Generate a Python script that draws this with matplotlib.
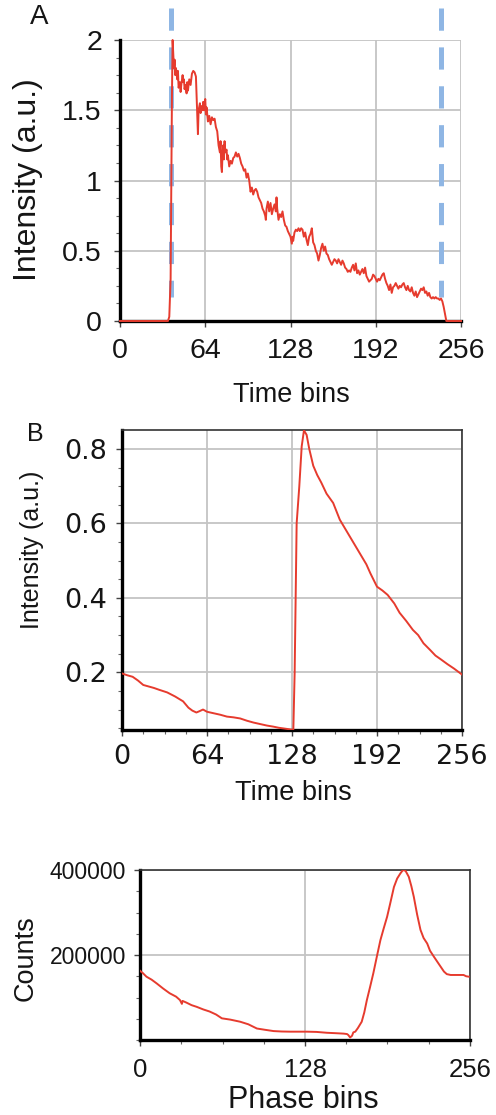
import matplotlib
matplotlib.use("Agg")
import matplotlib.pyplot as plt
from matplotlib.ticker import MultipleLocator, FixedLocator

# ---------------- data ----------------
a_x = [0, 36, 37, 38, 38.5, 39, 39.5, 40, 40.5, 41, 41.5, 42, 43, 43.5, 44, 45, 45.5, 46, 47, 47.5,
       48, 48.5, 49, 50, 50.5, 51, 52, 53, 54, 55, 56, 57, 57.5, 58, 58.5, 59, 60, 60.5, 61, 62,
       62.5, 63, 64, 64.5, 65, 66, 67, 68, 69, 70, 71, 72, 73, 73.5, 74, 75, 75.5, 76, 76.5, 77,
       77.5, 78, 78.5, 79, 80, 80.5, 81, 82, 83, 84, 85, 86, 87, 88, 89, 90, 91, 92, 93, 94,
       95, 96, 97, 98, 99, 100, 101, 102, 103, 104, 105, 106, 107, 108, 109, 109.5, 110, 111, 112, 113,
       114, 115, 116, 117, 117.5, 118, 119, 120, 121, 122, 123, 124, 125, 126, 127, 128, 129, 129.5, 130, 131,
       132, 133, 134, 135, 136, 137, 138, 139, 140, 141, 142, 143, 144, 145, 146, 147, 148, 149, 150, 151,
       152, 153, 154, 155, 156, 157, 158, 159, 160, 161, 162, 163, 164, 165, 166, 167, 168, 169, 170, 171,
       172, 173, 174, 175, 176, 177, 178, 179, 180, 181, 182, 183, 184, 185, 186, 187, 188, 189, 190, 191,
       192, 193, 194, 195, 196, 197, 198, 199, 200, 201, 202, 203, 204, 205, 206, 207, 208, 209, 210, 211,
       212, 213, 214, 215, 216, 217, 218, 219, 220, 221, 222, 223, 224, 225, 226, 227, 228, 229, 230, 231,
       232, 233, 234, 235, 236, 237, 238, 239, 240, 241, 242, 243, 244, 245, 256]
a_y = [0, 0, 0.03, 0.3, 1.0, 1.6, 2.0, 1.9, 1.8, 1.86, 1.75, 1.8, 1.72, 1.78, 1.66, 1.7, 1.63, 1.68, 1.75, 1.7,
       1.72, 1.65, 1.68, 1.62, 1.7, 1.64, 1.72, 1.68, 1.76, 1.78, 1.77, 1.74, 1.6, 1.45, 1.33, 1.5, 1.55, 1.48, 1.53, 1.5,
       1.56, 1.5, 1.58, 1.47, 1.52, 1.42, 1.46, 1.4, 1.45, 1.43, 1.44, 1.38, 1.35, 1.3, 1.25, 1.2, 1.28, 1.1, 1.06, 1.2,
       1.25, 1.15, 1.28, 1.2, 1.22, 1.15, 1.18, 1.1, 1.14, 1.12, 1.16, 1.17, 1.2, 1.17, 1.19, 1.16, 1.12, 1.1, 1.07, 1.08,
       1.02, 1.05, 1.0, 0.92, 0.95, 0.9, 0.93, 0.94, 0.92, 0.88, 0.86, 0.84, 0.8, 0.78, 0.75, 0.72, 0.8, 0.85, 0.78, 0.84,
       0.76, 0.8, 0.83, 0.78, 0.88, 0.8, 0.72, 0.76, 0.74, 0.78, 0.72, 0.68, 0.67, 0.64, 0.62, 0.6, 0.55, 0.6, 0.57, 0.63,
       0.65, 0.64, 0.66, 0.64, 0.66, 0.65, 0.6, 0.63, 0.58, 0.54, 0.6, 0.62, 0.66, 0.56, 0.54, 0.5, 0.48, 0.43, 0.47, 0.52,
       0.55, 0.5, 0.53, 0.48, 0.47, 0.44, 0.42, 0.4, 0.42, 0.44, 0.43, 0.41, 0.44, 0.42, 0.4, 0.43, 0.41, 0.38, 0.37, 0.35,
       0.36, 0.35, 0.38, 0.4, 0.36, 0.41, 0.34, 0.36, 0.33, 0.35, 0.37, 0.34, 0.38, 0.32, 0.3, 0.28, 0.29, 0.3, 0.33, 0.32,
       0.3, 0.28, 0.3, 0.29, 0.31, 0.33, 0.34, 0.3, 0.27, 0.25, 0.22, 0.26, 0.2, 0.24, 0.25, 0.27, 0.25, 0.23, 0.25, 0.24,
       0.26, 0.27, 0.24, 0.22, 0.25, 0.22, 0.21, 0.24, 0.2, 0.18, 0.21, 0.17, 0.19, 0.21, 0.23, 0.22, 0.24, 0.2, 0.21, 0.18,
       0.2, 0.17, 0.16, 0.17, 0.16, 0.17, 0.16, 0.16, 0.15, 0.16, 0.14, 0.1, 0.05, 0.0, 0.0]
a_marks = [38.5, 240.7]

b_x = [0, 4, 8, 12, 16, 20, 24, 28, 34, 40, 46, 50, 53, 56, 58, 61, 64, 69, 74, 79,
       84, 89, 94, 99, 104, 109, 114, 118, 122, 126, 129, 130, 131.5, 133.5, 135.3, 137, 139, 141, 144, 147,
       150, 154, 159, 164, 169, 174, 179, 184, 187, 192, 196, 200, 205, 209, 214, 219, 223, 227, 232, 236,
       240, 245, 250, 256]
b_y = [0.197, 0.192, 0.188, 0.178, 0.166, 0.162, 0.158, 0.153, 0.146, 0.135, 0.122, 0.105, 0.097, 0.092, 0.095, 0.1, 0.094, 0.09, 0.086, 0.081,
       0.079, 0.076, 0.07, 0.065, 0.061, 0.057, 0.054, 0.051, 0.049, 0.047, 0.045, 0.2, 0.6, 0.7, 0.807, 0.85, 0.838, 0.8, 0.755, 0.73,
       0.71, 0.68, 0.655, 0.61, 0.58, 0.55, 0.52, 0.49, 0.466, 0.43, 0.42, 0.408, 0.385, 0.36, 0.338, 0.314, 0.3, 0.278, 0.26, 0.245,
       0.235, 0.222, 0.21, 0.194]

c_x = [0, 2, 5, 9, 13, 18, 23, 28, 31, 32.5, 33, 36, 40, 44, 49, 54, 59, 63.5, 70, 77.7,
       84, 90.7, 97, 103.6, 110, 116.6, 123, 129.5, 137, 145, 152, 158, 160.6, 161.5, 163, 164.5, 165.5, 167, 169, 172,
       174, 176, 178.5, 181, 184, 186.5, 189, 191.7, 194, 197, 199.5, 202, 204, 206, 208.5, 210.5, 212.4, 215, 217.6, 220,
       222.8, 225, 228, 232, 235.8, 238, 241, 246, 251, 253, 255]
c_y = [163, 158, 149, 142, 133, 121, 110, 102, 94, 85, 92, 88, 82, 78, 72, 67, 60, 51, 48, 43,
       37, 27, 24, 21, 20, 19.6, 19.6, 19.6, 19, 17, 16, 15, 14, 12, 6, 10, 18, 19.6, 28, 43,
       65, 94, 125, 157, 200, 235, 262, 290, 320, 360, 380, 392, 400, 398, 384, 362, 337, 295, 259, 240,
       227, 210, 196, 178, 161, 155, 153, 153, 153, 150, 149]
c_y = [v * 1000 for v in c_y]

# ---------------- style ----------------
RED = "#e63b2e"
BLUE = "#8fb6e4"
GRID = "#c4c4c4"
plt.rcParams["lines.scale_dashes"] = False
ARIAL = ["Liberation Sans", "DejaVu Sans"]
VERD = ["DejaVu Sans"]

W, H = 496, 1115
fig = plt.figure(figsize=(W / 100, H / 100), dpi=100)


def rect(l, t, r, b):
    return [l / W, 1 - b / H, (r - l) / W, (b - t) / H]


def ftext(x, y, s, **kw):
    fig.text(x / W, 1 - y / H, s, color="#151515", **kw)


def style_axes(ax, full_box):
    ax.set_facecolor("white")
    for s in ("left", "bottom"):
        ax.spines[s].set_linewidth(2.4)
        ax.spines[s].set_color("black")
    for s in ("top", "right"):
        if full_box:
            ax.spines[s].set_linewidth(1.2)
            ax.spines[s].set_color("#333333")
        else:
            ax.spines[s].set_visible(False)
    ax.grid(True, which="major", color=GRID, lw=1.3)
    ax.set_axisbelow(True)
    ax.tick_params(which="major", direction="out", length=4, width=1, color="#444444")
    ax.tick_params(which="minor", direction="out", length=3, width=0.8, color="#666666")


# ---------------- panel A ----------------
axA = fig.add_axes(rect(120, 40, 461, 321))
style_axes(axA, False)
axA.plot(a_x, a_y, color=RED, lw=1.4, clip_on=False, zorder=4)
for xm in a_marks:
    axA.plot([xm, xm], [2.23, 0.17], color=BLUE, lw=3.6, dashes=(16, 12),
             solid_capstyle="butt", dash_capstyle="butt", clip_on=False, zorder=3)
axA.set_xlim(0, 256)
axA.set_ylim(0, 2)
axA.set_xticks([0, 64, 128, 192, 256])
axA.set_yticks([0, 0.5, 1, 1.5, 2])
axA.set_yticklabels(["0", "0.5", "1", "1.5", "2"])
axA.yaxis.set_minor_locator(MultipleLocator(0.125))
axA.tick_params(axis="x", which="major", pad=8)
axA.tick_params(axis="y", which="major", pad=9)
for lab in axA.get_xticklabels() + axA.get_yticklabels():
    lab.set_fontfamily(ARIAL)
    lab.set_fontsize(20.5)
    lab.set_color("#151515")
ftext(39, 17, "A", fontsize=20, family=ARIAL, ha="center", va="center")
ftext(28, 180, "Intensity (a.u.)", fontsize=23, family=ARIAL, rotation=90, ha="center", va="center")
ftext(291, 395, "Time bins", fontsize=19.5, family=ARIAL, ha="center", va="center")

# ---------------- panel B ----------------
axB = fig.add_axes(rect(122, 430, 462, 730))
style_axes(axB, True)
axB.plot(b_x, b_y, color=RED, lw=1.4, zorder=4)
axB.set_xlim(0, 256)
axB.set_ylim(0.045, 0.851)
axB.set_xticks([0, 64, 128, 192, 256])
axB.set_yticks([0.2, 0.4, 0.6, 0.8])
axB.xaxis.set_minor_locator(MultipleLocator(16))
axB.yaxis.set_minor_locator(FixedLocator([0.05, 0.1, 0.15, 0.25, 0.3, 0.35, 0.45, 0.5, 0.55, 0.65, 0.7, 0.75]))
axB.tick_params(axis="x", which="major", pad=6)
axB.tick_params(axis="y", which="major", pad=7)
for lab in axB.get_xticklabels() + axB.get_yticklabels():
    lab.set_fontfamily(VERD)
    lab.set_fontsize(19.5)
    lab.set_color("#151515")
ftext(35, 434, "B", fontsize=18, family=ARIAL, ha="center", va="center")
ftext(32, 550, "Intensity (a.u.)", fontsize=18, family=ARIAL, rotation=90, ha="center", va="center")
ftext(293, 793, "Time bins", fontsize=19.5, family=ARIAL, ha="center", va="center")

# ---------------- panel C ----------------
axC = fig.add_axes(rect(140, 870, 470, 1040))
style_axes(axC, True)
axC.plot(c_x, c_y, color=RED, lw=1.4, zorder=4)
axC.set_xlim(0, 256)
axC.set_ylim(0, 400000)
axC.set_xticks([0, 128, 256])
axC.set_yticks([200000, 400000])
axC.set_yticklabels(["200000", "400000"])
axC.xaxis.set_minor_locator(MultipleLocator(32))
axC.yaxis.set_minor_locator(MultipleLocator(50000))
axC.tick_params(axis="x", which="major", pad=9)
axC.tick_params(axis="y", which="major", pad=6)
for lab in axC.get_xticklabels():
    lab.set_fontfamily(ARIAL)
    lab.set_fontsize(18.5)
    lab.set_color("#151515")
for lab in axC.get_yticklabels():
    lab.set_fontfamily(ARIAL)
    lab.set_fontsize(16.5)
    lab.set_color("#151515")
ftext(26, 958, "Counts", fontsize=19.5, family=ARIAL, rotation=90, ha="center", va="center")
ftext(303, 1100, "Phase bins", fontsize=22, family=ARIAL, ha="center", va="center")

fig.savefig("out.png", dpi=100, facecolor="white")
